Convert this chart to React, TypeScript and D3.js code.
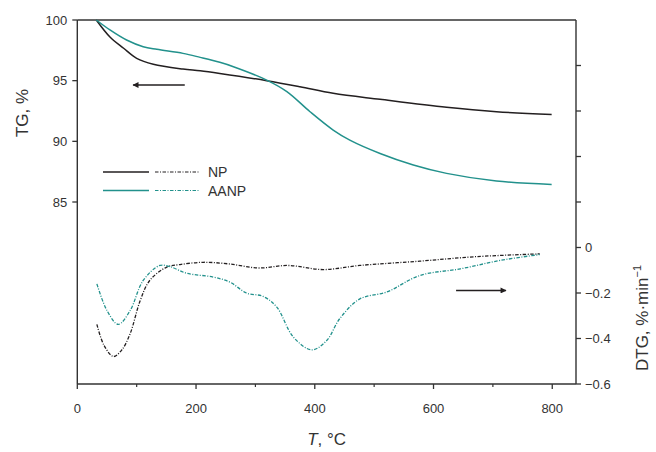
import React from "react";
import * as d3 from "d3";

// TG curves (T in °C, TG in %)
const npTG: [number, number][] = [
  [32, 100], [55, 98.6], [78, 97.67], [100, 96.84], [128, 96.35], [178, 95.96],
  [207, 95.82], [240, 95.6], [319, 95.0], [375, 94.5], [431, 93.96], [510, 93.46],
  [622, 92.8], [706, 92.44], [799, 92.22],
];
const aanpTG: [number, number][] = [
  [32, 100], [55, 99.18], [83, 98.35], [111, 97.8], [134, 97.58], [178, 97.25],
  [207, 96.92], [240, 96.51], [263, 96.15], [319, 95.05], [353, 94.1], [392, 92.44],
  [431, 90.93], [459, 90.1], [510, 89.0], [566, 88.05], [622, 87.36], [706, 86.73], [799, 86.45],
];
// DTG curves (T in °C, DTG in %/min)
const npDTG: [number, number][] = [
  [33, -0.338], [45, -0.43], [61, -0.479], [75, -0.45], [89, -0.379], [106, -0.233],
  [122, -0.145], [150, -0.087], [173, -0.075], [212, -0.065], [255, -0.072], [305, -0.09],
  [355, -0.079], [414, -0.097], [476, -0.079], [577, -0.06], [673, -0.04], [779, -0.028],
];
const aanpDTG: [number, number][] = [
  [33, -0.16], [50, -0.277], [69, -0.338], [89, -0.277], [111, -0.145], [139, -0.079],
  [156, -0.084], [184, -0.113], [229, -0.13], [257, -0.152], [285, -0.2], [313, -0.215],
  [336, -0.262], [364, -0.394], [395, -0.45], [420, -0.409], [442, -0.313], [476, -0.226],
  [521, -0.196], [577, -0.123], [645, -0.094], [712, -0.057], [779, -0.031],
];

const xTicks = [0, 200, 400, 600, 800];
const xMinorTicks = [100, 300, 500, 700];
const tgTicks = [85, 90, 95, 100];
const dtgTicksLabeled = [0, -0.2, -0.4, -0.6];
const dtgTicksUnlabeled = [0.2, 0.4, 0.6, 0.8];

const seriesNames = ["NP", "AANP"];
const BLACK = "#231f20";
const TEAL = "#22918c";
const AXIS = "#333";
const FONT = "'Liberation Sans', Arial, sans-serif";

export default function App() {
  const left = 77.3, right = 576, top = 20, bottom = 384;
  const x = d3.scaleLinear().domain([0, 840]).range([left, right]);
  const yTG = d3.scaleLinear().domain([70, 100]).range([bottom, top]);
  const yDTG = d3.scaleLinear().domain([-0.6, 1.0]).range([bottom, top]);

  const lineTG = d3.line<[number, number]>().x(d => x(d[0])).y(d => yTG(d[1])).curve(d3.curveCatmullRom.alpha(0.5));
  const lineDTG = d3.line<[number, number]>().x(d => x(d[0])).y(d => yDTG(d[1])).curve(d3.curveCatmullRom.alpha(0.5));

  const dash = "3.5,1.5,1,1.5";

  const fmtDTG = (v: number) => (v === 0 ? "0" : "\u2212" + Math.abs(v).toFixed(1));

  // arrows in data coords
  const la = { x1: 181, x2: 94, y: 94.64 };
  const ra = { x1: 638, x2: 722, y: -0.189 };

  return (
    <svg width={656} height={452} style={{ position: "absolute", left: 0, top: 0, background: "#fff" }}
      fontFamily={FONT}>
      <defs>
        <marker id="ah" viewBox="0 0 10 10" refX="9" refY="5" markerWidth="13" markerHeight="6" markerUnits="userSpaceOnUse" orient="auto">
          <path d="M0,0 L10,5 L0,10 z" fill={BLACK} />
        </marker>
      </defs>

      {/* frame */}
      <line x1={left} x2={left} y1={top} y2={bottom} stroke={AXIS} strokeWidth={1.4} />
      <line x1={right} x2={right} y1={top} y2={bottom} stroke={AXIS} strokeWidth={1.4} />
      <line x1={left} x2={right} y1={top} y2={top} stroke={AXIS} strokeWidth={1.4} />
      <line x1={left} x2={right} y1={bottom} y2={bottom} stroke={AXIS} strokeWidth={1.4} />

      {/* x axis */}
      {xTicks.map(t => (
        <g key={t}>
          <line x1={x(t)} x2={x(t)} y1={bottom} y2={bottom + 5} stroke={AXIS} strokeWidth={1.3} />
          <text x={x(t)} y={413} textAnchor="middle" fontSize={13} fill="#333">{t}</text>
        </g>
      ))}
      {xMinorTicks.map(t => (
        <line key={t} x1={x(t)} x2={x(t)} y1={bottom} y2={bottom + 3} stroke={AXIS} strokeWidth={1.2} />
      ))}
      <text x={(left + right) / 2} y={445} textAnchor="middle" fontSize={17} fill="#333">
        <tspan fontStyle="italic">T</tspan>, °C
      </text>

      {/* left TG axis */}
      {tgTicks.map(t => (
        <g key={t}>
          <line x1={left - 5} x2={left} y1={yTG(t)} y2={yTG(t)} stroke={AXIS} strokeWidth={1.3} />
          <text x={left - 10} y={yTG(t) + 4.5} textAnchor="end" fontSize={13} fill="#333">{t}</text>
        </g>
      ))}
      <text transform={`translate(28,113) rotate(-90)`} textAnchor="middle" fontSize={17} fill="#333">TG, %</text>

      {/* right DTG axis */}
      {dtgTicksLabeled.map(t => (
        <g key={t}>
          <line x1={right} x2={right + 5} y1={yDTG(t)} y2={yDTG(t)} stroke={AXIS} strokeWidth={1.3} />
          <text x={right + 9} y={yDTG(t) + 4.5} textAnchor="start" fontSize={13} fill="#333">{fmtDTG(t)}</text>
        </g>
      ))}
      {dtgTicksUnlabeled.map(t => (
        <line key={t} x1={right} x2={right + 5} y1={yDTG(t)} y2={yDTG(t)} stroke={AXIS} strokeWidth={1.3} />
      ))}
      <text transform={`translate(648,318) rotate(-90)`} textAnchor="middle" fontSize={17} fill="#333">
        DTG, %·min<tspan dy={-7} fontSize={11}>−1</tspan>
      </text>

      {/* curves */}
      <path d={lineTG(npTG) || ""} fill="none" stroke={BLACK} strokeWidth={1.5} />
      <path d={lineTG(aanpTG) || ""} fill="none" stroke={TEAL} strokeWidth={1.5} />
      <path d={lineDTG(npDTG) || ""} fill="none" stroke={BLACK} strokeWidth={1.3} strokeDasharray={dash} />
      <path d={lineDTG(aanpDTG) || ""} fill="none" stroke={TEAL} strokeWidth={1.3} strokeDasharray={dash} />

      {/* arrows */}
      <line x1={x(la.x1)} x2={x(la.x2)} y1={yTG(la.y)} y2={yTG(la.y)} stroke={BLACK} strokeWidth={1.4} markerEnd="url(#ah)" />
      <line x1={x(ra.x1)} x2={x(ra.x2)} y1={yDTG(ra.y)} y2={yDTG(ra.y)} stroke={BLACK} strokeWidth={1.4} markerEnd="url(#ah)" />

      {/* legend */}
      {seriesNames.map((n, i) => {
        const c = i === 0 ? BLACK : TEAL;
        const yy = 172 + i * 18.5;
        return (
          <g key={n}>
            <line x1={103} x2={149} y1={yy} y2={yy} stroke={c} strokeWidth={1.5} />
            <line x1={155} x2={200} y1={yy} y2={yy} stroke={c} strokeWidth={1.2} strokeDasharray={dash} />
            <text x={208} y={yy + 5} fontSize={14} fill="#333">{n}</text>
          </g>
        );
      })}
    </svg>
  );
}
